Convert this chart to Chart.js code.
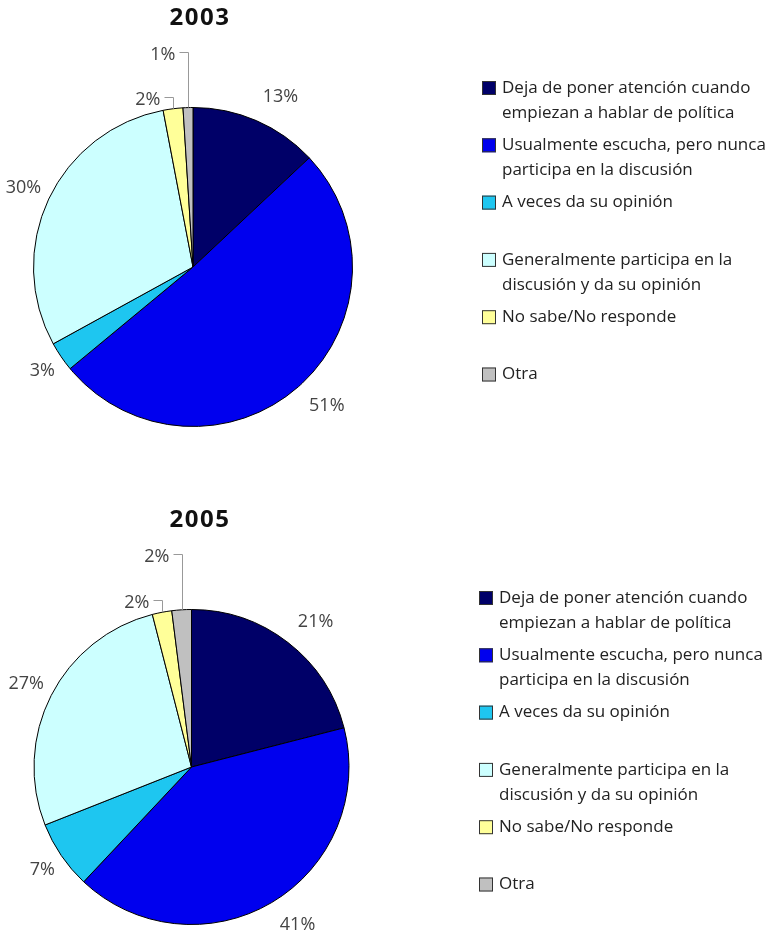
<!DOCTYPE html>
<html>
<head>
<meta charset="utf-8">
<script src="https://cdn.jsdelivr.net/npm/chart.js@4"></script>
<style>
  body { margin: 0; background: #fff; }
  .box { position: relative; width: 778px; height: 473px; }
</style>
</head>
<body>
<div class="box"><canvas id="chart2003"></canvas></div>
<div class="box"><canvas id="chart2005"></canvas></div>
<script>
// ---- data ----
const categories = [
    ['Deja de poner atención cuando', 'empiezan a hablar de política'],
    ['Usualmente escucha, pero nunca', 'participa en la discusión'],
    ['A veces da su opinión'],
    ['Generalmente participa en la', 'discusión y da su opinión'],
    ['No sabe/No responde'],
    ['Otra']
];
const years = ['2003', '2005'];
const values2003 = [13, 51, 3, 30, 2, 1];
const values2005 = [21, 41, 7, 27, 2, 2];
const sliceColors = ['#000068', '#0000ee', '#1ec6f0', '#ccffff', '#ffff99', '#c0c0c0'];

const FONT = '"Open Sans", "DejaVu Sans", sans-serif';

// draws title, percent labels (with leader lines for tiny slices) and the legend
const pieDecor = {
    id: 'pieDecor',
    afterDraw(chart, args, opts) {
        const ctx = chart.ctx;
        const meta = chart.getDatasetMeta(0);
        const values = chart.data.datasets[0].data;
        ctx.save();

        // title
        ctx.fillStyle = '#111';
        ctx.font = 'bold 24px ' + FONT;
        ctx.letterSpacing = '1.5px';
        ctx.textAlign = 'center';
        ctx.textBaseline = 'middle';
        ctx.fillText(opts.title, opts.titleX, opts.titleY);
        ctx.letterSpacing = '0px';

        // percent labels
        ctx.font = '18px ' + FONT;
        ctx.fillStyle = '#444';
        let small = [];
        meta.data.forEach((arc, i) => {
            const p = arc.getProps(['x', 'y', 'startAngle', 'endAngle', 'outerRadius'], true);
            const mid = (p.startAngle + p.endAngle) / 2;
            const txt = values[i] + '%';
            if (values[i] <= 2) { small.push({ p, mid, txt }); return; }
            const r = p.outerRadius + 16;
            const right = Math.cos(mid) >= 0;
            const lx = p.x + Math.cos(mid) * r + (right ? 0 : 7);
            const ly = p.y + Math.sin(mid) * r;
            ctx.textAlign = right ? 'left' : 'right';
            ctx.textBaseline = 'middle';
            ctx.fillText(txt, lx, ly + Math.sin(mid) * 10);
        });

        // tiny slices at the top: labels lifted with leader lines
        ctx.strokeStyle = '#999';
        ctx.lineWidth = 1;
        small.forEach((s, k) => {
            const ex = Math.round(s.p.x + Math.cos(s.mid) * s.p.outerRadius) + 0.5;
            const ey = s.p.y + Math.sin(s.mid) * s.p.outerRadius;
            const ly = Math.round(ey - 12 - 44 * k) + 0.5;
            ctx.beginPath();
            ctx.moveTo(ex, ey);
            ctx.lineTo(ex, ly);
            ctx.lineTo(ex - 9, ly);
            ctx.stroke();
            ctx.textAlign = 'right';
            ctx.textBaseline = 'middle';
            ctx.fillText(s.txt, ex - 13, ly + 2);
        });

        // legend
        ctx.font = '17px ' + FONT;
        ctx.textAlign = 'left';
        ctx.textBaseline = 'middle';
        categories.forEach((lines, i) => {
            const y0 = opts.legendTop + i * 57.3;
            ctx.fillStyle = sliceColors[i];
            ctx.fillRect(opts.legendX, y0 - 7, 14, 14);
            ctx.strokeStyle = '#333';
            ctx.strokeRect(opts.legendX + 0.5, y0 - 6.5, 13, 13);
            ctx.fillStyle = '#222';
            lines.forEach((t, j) => ctx.fillText(t, opts.legendX + 20, y0 + j * 25));
        });
        ctx.restore();
    }
};

function makePie(id, values, title, pad, deco) {
    return new Chart(document.getElementById(id), {
        type: 'pie',
        data: {
            labels: categories.map(l => l.join(' ')),
            datasets: [{
                data: values,
                backgroundColor: sliceColors,
                borderColor: '#000',
                borderWidth: 1
            }]
        },
        options: {
            responsive: true,
            maintainAspectRatio: false,
            animation: false,
            layout: { padding: pad },
            plugins: {
                legend: { display: false },
                tooltip: { enabled: false },
                pieDecor: Object.assign({ title: title }, deco)
            }
        },
        plugins: [pieDecor]
    });
}

makePie('chart2003', values2003, years[0],
    { left: 33, right: 425, top: 107, bottom: 46 },
    { titleX: 200, titleY: 18, legendX: 482, legendTop: 88 });
makePie('chart2005', values2005, years[1],
    { left: 33, right: 428, top: 136, bottom: 21 },
    { titleX: 200, titleY: 47, legendX: 479, legendTop: 125 });
</script>
</body>
</html>
